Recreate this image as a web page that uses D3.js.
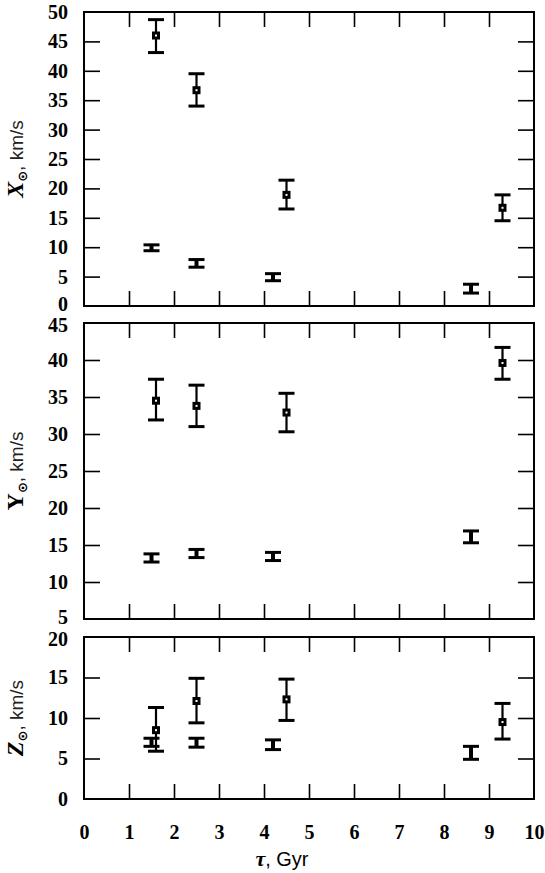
<!DOCTYPE html>
<html>
<head>
<meta charset="utf-8">
<script src="https://cdn.jsdelivr.net/npm/d3@7"></script>
<style>
  body { margin: 0; background: #fff; }
  .tick text { font-family: "Liberation Serif", serif; font-weight: bold; font-size: 20px; fill: #000; }
  .tick line { stroke: #000; stroke-width: 1.6; }
</style>
</head>
<body>
<div id="chart"></div>
<script>
// Ages (tau, Gyr) of the two groups
const ageA = [1.6, 2.5, 4.5, 9.3];
const ageB = [1.5, 2.5, 4.2, 8.6];

// X component, km/s : value, lower, upper
const xA = [46.0, 36.7, 18.9, 16.7];
const xALo = [43.1, 34.0, 16.5, 14.5];
const xAHi = [48.7, 39.5, 21.4, 18.9];
const xB = [9.9, 7.3, 4.9, 2.9];
const xBLo = [9.4, 6.6, 4.3, 2.2];
const xBHi = [10.4, 7.9, 5.5, 3.7];

// Y component
const yA = [34.5, 33.8, 32.9, 39.6];
const yALo = [31.9, 31.0, 30.3, 37.4];
const yAHi = [37.4, 36.6, 35.5, 41.7];
const yB = [13.2, 13.8, 13.5, 16.1];
const yBLo = [12.7, 13.3, 12.9, 15.3];
const yBHi = [13.8, 14.4, 14.0, 16.9];

// Z component
const zA = [8.5, 12.1, 12.3, 9.5];
const zALo = [5.9, 9.4, 9.7, 7.4];
const zAHi = [11.3, 14.9, 14.8, 11.8];
const zB = [7.0, 6.95, 6.7, 5.7];
const zBLo = [6.5, 6.4, 6.1, 4.9];
const zBHi = [7.5, 7.5, 7.3, 6.5];

const xTicks = [0, 1, 2, 3, 4, 5, 6, 7, 8, 9, 10];

const panels = [
  { letter: "X", italic: true, domain: [0, 50], ticks: [0, 5, 10, 15, 20, 25, 30, 35, 40, 45, 50],
    top: 12, bottom: 306, a: [xA, xALo, xAHi], b: [xB, xBLo, xBHi] },
  { letter: "Y", italic: false, domain: [5, 45], ticks: [5, 10, 15, 20, 25, 30, 35, 40, 45],
    top: 323, bottom: 619, a: [yA, yALo, yAHi], b: [yB, yBLo, yBHi] },
  { letter: "Z", italic: true, domain: [0, 20], ticks: [0, 5, 10, 15, 20],
    top: 637, bottom: 799, a: [zA, zALo, zAHi], b: [zB, zBLo, zBHi] }
];

const fullWidth = 545, fullHeight = 873;
const left = 84, right = 534;

const svg = d3.select("#chart")
  .append("svg")
  .attr("width", fullWidth)
  .attr("height", fullHeight);

const x = d3.scaleLinear().domain([0, 10]).range([left, right]);

panels.forEach(function(p, i) {
  const y = d3.scaleLinear().domain(p.domain).range([p.bottom, p.top]);
  const g = svg.append("g");

  // left axis with labels, ticks pointing inward
  g.append("g")
    .attr("transform", `translate(${left},0)`)
    .call(d3.axisLeft(y).tickValues(p.ticks).tickSize(-16).tickPadding(16).tickFormat(d3.format("d")))
    .call(s => s.select(".domain").remove())
    .call(s => s.selectAll(".tick line").filter(d => d === p.domain[0] || d === p.domain[1]).remove())
    // edge labels squeezed a little, as in the original
    .call(s => s.selectAll(".tick text").filter(d => d === p.domain[0] && i < 2).attr("dy", "0.2em"))
    .call(s => s.selectAll(".tick text").filter(d => d === p.domain[1] && i > 0).attr("dy", "0.42em"));

  // right axis, ticks only
  g.append("g")
    .attr("transform", `translate(${right},0)`)
    .call(d3.axisRight(y).tickValues(p.ticks.slice(1, -1)).tickSize(-16).tickFormat(""))
    .call(s => s.select(".domain").remove());

  // top and bottom ticks
  g.append("g")
    .attr("transform", `translate(0,${p.top})`)
    .call(d3.axisTop(x).tickValues(xTicks.slice(1, -1)).tickSize(-15).tickFormat(""))
    .call(s => s.select(".domain").remove());
  const bottomAxis = d3.axisBottom(x).tickValues(i === 2 ? xTicks : xTicks.slice(1, -1)).tickSize(-15).tickPadding(26);
  if (i !== 2) bottomAxis.tickFormat("");
  g.append("g")
    .attr("transform", `translate(0,${p.bottom})`)
    .call(bottomAxis)
    .call(s => s.select(".domain").remove())
    .call(s => s.selectAll(".tick line").filter(d => d === 0 || d === 10).remove());

  // frame
  g.append("rect")
    .attr("x", left).attr("y", p.top)
    .attr("width", right - left).attr("height", p.bottom - p.top)
    .attr("fill", "none").attr("stroke", "#000").attr("stroke-width", 2);

  // error bars
  function drawBars(ages, vals, lo, hi, sw, marker) {
    const data = ages.map((t, k) => ({ t: t, v: vals[k], lo: lo[k], hi: hi[k] }));
    const eb = g.selectAll(null).data(data).enter().append("g");
    eb.append("line")
      .attr("x1", d => x(d.t)).attr("x2", d => x(d.t))
      .attr("y1", d => y(d.lo)).attr("y2", d => y(d.hi))
      .attr("stroke", "#000").attr("stroke-width", sw);
    [d => d.lo, d => d.hi].forEach(f => {
      eb.append("line")
        .attr("x1", d => x(d.t) - 8).attr("x2", d => x(d.t) + 8)
        .attr("y1", d => y(f(d))).attr("y2", d => y(f(d)))
        .attr("stroke", "#000").attr("stroke-width", 3);
    });
    if (marker) {
      eb.append("rect")
        .attr("x", d => x(d.t) - 2.5).attr("y", d => y(d.v) - 2.5)
        .attr("width", 5).attr("height", 5)
        .attr("fill", "#fff").attr("stroke", "#000").attr("stroke-width", 3);
    }
  }
  drawBars(ageB, p.b[0], p.b[1], p.b[2], 4, false);
  drawBars(ageA, p.a[0], p.a[1], p.a[2], 2.2, true);

  // y label
  const lbl = svg.append("text")
    .attr("transform", `translate(23,${(p.top + p.bottom) / 2}) rotate(-90)`)
    .attr("text-anchor", "middle")
    .style("font-family", "Liberation Sans, sans-serif")
    .style("font-size", "19px");
  lbl.append("tspan")
    .text(p.letter)
    .style("font-family", "Liberation Serif, serif")
    .style("font-style", p.italic ? "italic" : "normal")
    .style("font-weight", "bold")
    .style("font-size", "24px");
  lbl.append("tspan")
    .text("\u2299")
    .attr("dy", 4)
    .style("font-family", "DejaVu Sans, sans-serif")
    .style("font-weight", "bold")
    .style("font-size", "13px");
  lbl.append("tspan")
    .text(", km/s")
    .attr("dy", -4)
    .style("fill", "#222");
});

// x label
const xl = svg.append("text")
  .attr("x", 282).attr("y", 866)
  .attr("text-anchor", "middle")
  .style("font-family", "Liberation Sans, sans-serif")
  .style("font-size", "20px");
xl.append("tspan").text("\u03c4")
  .style("font-family", "Liberation Serif, serif")
  .style("font-style", "italic")
  .style("font-weight", "bold")
  .style("font-size", "22px");
xl.append("tspan").text(",  Gyr");
</script>
</body>
</html>
